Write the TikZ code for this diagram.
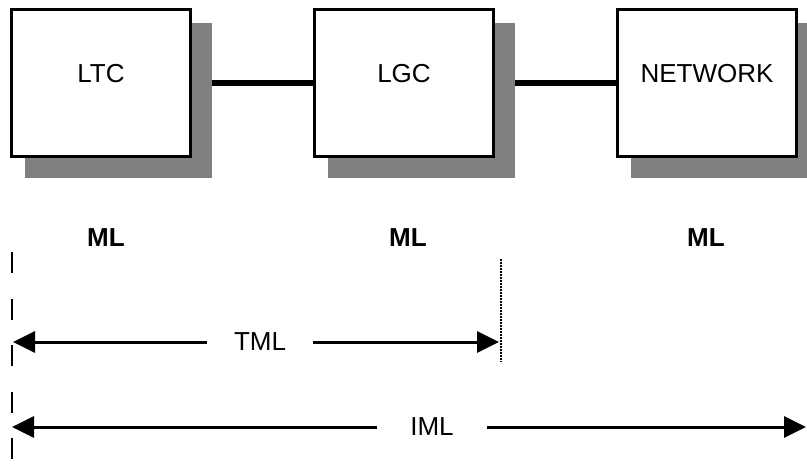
\documentclass[tikz,border=0pt]{standalone}
\usepackage{fontspec}
\setmainfont{Liberation Sans}
\usetikzlibrary{positioning,arrows.meta,calc,backgrounds}
\definecolor{shadeclr}{RGB}{128,128,128}
\tikzset{
  blk/.style={rectangle,draw=black,line width=3pt,fill=white,
              minimum width=179pt,minimum height=147pt,inner sep=0pt,
              text height=18pt,text depth=20pt,font=\fontsize{26}{30}\selectfont},
  link/.style={line width=5.5pt},
  dimarr/.style={-{Triangle[length=22pt,width=21pt]},line width=3pt},
  dimlbl/.style={inner ysep=2pt,font=\fontsize{26}{30}\selectfont},
  mllbl/.style={font=\fontsize{26}{30}\selectfont\bfseries},
  guide/.style={line width=2.5pt,dash pattern=on 2pt off 1pt},
}
\begin{document}
\begin{tikzpicture}[x=1pt, y=-1pt]
\useasboundingbox (0,0) rectangle (807,471);

% Boxes
\node[blk] (ltc) at (101,83) {LTC};
\node[blk,right=121pt of ltc] (lgc) {LGC};
\node[blk,right=121pt of lgc] (net) {NETWORK};

% Links and shadows behind the boxes
\begin{scope}[on background layer]
\draw[link] (ltc.east) -- (lgc.west);
\draw[link] (lgc.east) -- (net.west);
\foreach \b in {ltc,lgc,net}
  \fill[shadeclr] ($(\b.north west)+(15,15)$) rectangle ($(\b.south east)+(20,20)$);
\end{scope}

% ML labels
\node[mllbl] (ml1) at (106,238) {ML};
\node[mllbl] (ml2) at (408,238) {ML};
\node[mllbl] (ml3) at (706,238) {ML};

% Guide lines
\coordinate (gl1) at (12,252);
\coordinate (gl2) at (12,460);
\coordinate (gr1) at (501,259);
\coordinate (gr2) at (501,362);
\draw[line width=2.5pt,dash pattern=on 21pt off 25.5pt] (gl1) -- (gl2);
\draw[guide] (gr1) -- (gr2);

% TML and IML
\coordinate (tmlL) at (13,342);
\coordinate (tmlR) at (499,342);
\coordinate (imlL) at (12,427);
\coordinate (imlR) at (806,427);
\node[dimlbl,inner xsep=27pt] (tml) at (260,342) {TML};
\node[dimlbl,inner xsep=33pt] (iml) at (432,427) {IML};
\draw[dimarr] (tml.west) -- (tmlL);
\draw[dimarr] (tml.east) -- (tmlR);
\draw[dimarr] (iml.west) -- (imlL);
\draw[dimarr] (iml.east) -- (imlR);
\end{tikzpicture}
\end{document}
